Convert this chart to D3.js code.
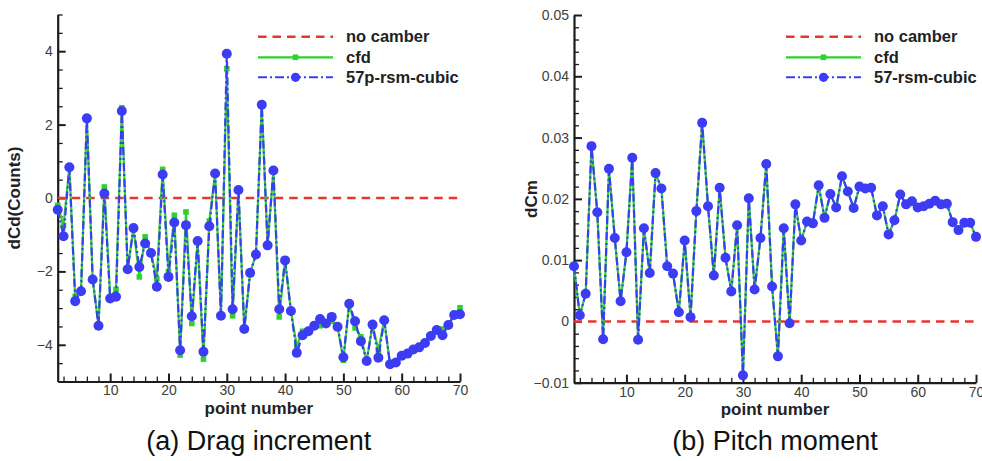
<!DOCTYPE html>
<html><head><meta charset="utf-8">
<script src="https://cdn.jsdelivr.net/npm/d3@7"></script>
<style>body{margin:0;background:#fff;} svg{display:block;font-family:"Liberation Sans",Arial,sans-serif;}</style>
</head><body>
<svg id="chart" width="982" height="461"></svg>
<script>
// ---------- data ----------
const pointNumbers = d3.range(1, 71);
const dragRsm = [-0.32,-1.04,0.84,-2.81,-2.54,2.17,-2.22,-3.48,0.12,-2.74,-2.69,2.37,-1.94,-0.82,-1.88,-1.24,-1.50,-2.42,0.64,-2.15,-0.67,-4.15,-0.74,-3.22,-1.17,-4.19,-0.77,0.67,-3.21,3.93,-3.03,0.22,-3.57,-2.04,-1.54,2.54,-1.29,0.75,-3.03,-1.70,-3.08,-4.22,-3.74,-3.63,-3.48,-3.30,-3.42,-3.24,-3.51,-4.34,-2.88,-3.36,-3.90,-4.44,-3.45,-4.35,-3.33,-4.53,-4.48,-4.30,-4.24,-4.13,-4.07,-3.95,-3.76,-3.60,-3.74,-3.46,-3.19,-3.17];
const dragCfd = [-0.20,-0.75,0.84,-2.68,-2.54,2.17,-2.22,-3.48,0.30,-2.70,-2.49,2.46,-1.94,-0.82,-2.15,-1.06,-1.50,-2.20,0.78,-2.00,-0.47,-4.28,-0.38,-3.42,-1.17,-4.39,-0.63,0.67,-3.21,3.52,-3.21,0.22,-3.57,-2.04,-1.54,2.54,-1.29,0.75,-3.24,-1.70,-3.08,-4.03,-3.63,-3.63,-3.48,-3.48,-3.42,-3.36,-3.51,-4.42,-2.88,-3.54,-3.78,-4.44,-3.45,-4.15,-3.33,-4.53,-4.48,-4.30,-4.24,-4.13,-4.07,-3.95,-3.76,-3.60,-3.57,-3.46,-3.19,-2.99];
const pitchRsm = [0.0090,0.0010,0.0045,0.0286,0.0178,-0.0029,0.0249,0.0136,0.0033,0.0113,0.0267,-0.0030,0.0152,0.0079,0.0242,0.0217,0.0090,0.0078,0.0015,0.0132,0.0007,0.0180,0.0324,0.0188,0.0075,0.0218,0.0104,0.0049,0.0157,-0.0088,0.0201,0.0052,0.0136,0.0257,0.0057,-0.0057,0.0152,-0.0003,0.0191,0.0132,0.0163,0.0160,0.0222,0.0169,0.0208,0.0186,0.0237,0.0212,0.0185,0.0220,0.0217,0.0218,0.0173,0.0188,0.0142,0.0165,0.0207,0.0191,0.0196,0.0186,0.0188,0.0192,0.0197,0.0191,0.0192,0.0162,0.0149,0.0161,0.0161,0.0138];
const pitchCfd = [0.0090,0.0010,0.0045,0.0286,0.0178,-0.0029,0.0249,0.0136,0.0033,0.0113,0.0267,-0.0030,0.0152,0.0079,0.0242,0.0217,0.0090,0.0078,0.0015,0.0132,0.0007,0.0180,0.0324,0.0188,0.0075,0.0218,0.0104,0.0049,0.0157,-0.0088,0.0201,0.0052,0.0136,0.0257,0.0057,-0.0057,0.0152,-0.0003,0.0191,0.0132,0.0163,0.0160,0.0222,0.0169,0.0208,0.0186,0.0237,0.0212,0.0185,0.0220,0.0217,0.0218,0.0173,0.0188,0.0142,0.0165,0.0207,0.0191,0.0196,0.0186,0.0188,0.0192,0.0197,0.0191,0.0192,0.0162,0.0149,0.0161,0.0161,0.0138];
const noCamber = 0;
const xMajorTicks = [10,20,30,40,50,60,70];
const dragYTicks = [-4,-2,0,2,4];
const pitchYTicks = [-0.01,0,0.01,0.02,0.03,0.04,0.05];
const legendDrag = ["no camber","cfd","57p-rsm-cubic"];
const legendPitch = ["no camber","cfd","57-rsm-cubic"];
const captions = ["(a) Drag increment","(b) Pitch moment"];
const yTitles = ["dCd(Counts)","dCm"];
const xTitle = "point number";

// ---------- drawing ----------
const svg = d3.select("#chart");
const RED = "#e8352f", GREEN = "#2ed12e", BLUE = "#3c3cf4", AX = "#1c1c1c", TXT = "#404040";

function panel(o) {
  const g = svg.append("g");
  const x = d3.scaleLinear().domain([1,70]).range([o.x0, o.x1]);
  const y = d3.scaleLinear().domain(o.yDomain).range([o.yBottom, o.yTop]);

  // minor ticks
  g.append("g").attr("transform", `translate(0,${o.yBottom})`)
    .call(d3.axisBottom(x).tickValues(d3.range(2,71,2).filter(v=>v%10)).tickSize(-5).tickSizeOuter(0).tickFormat(""))
    .call(a=>{a.select(".domain").remove(); a.selectAll("line").attr("stroke",AX).attr("stroke-width",1.3);});
  g.append("g").attr("transform", `translate(${o.x0},0)`)
    .call(d3.axisLeft(y).tickValues(o.yMinor).tickSize(-5).tickSizeOuter(0).tickFormat(""))
    .call(a=>{a.select(".domain").remove(); a.selectAll("line").attr("stroke",AX).attr("stroke-width",1.3);});

  // major axes
  const xa = g.append("g").attr("transform", `translate(0,${o.yBottom})`)
    .call(d3.axisBottom(x).tickValues(xMajorTicks).tickSize(-8).tickSizeOuter(0).tickPadding(4));
  const ya = g.append("g").attr("transform", `translate(${o.x0},0)`)
    .call(d3.axisLeft(y).tickValues(o.yTicks).tickSize(-8).tickSizeOuter(0).tickPadding(5).tickFormat(o.fmt));
  [xa,ya].forEach(a=>{
    a.select(".domain").attr("stroke",AX).attr("stroke-width",2.2);
    a.selectAll(".tick line").attr("stroke",AX).attr("stroke-width",2);
    a.selectAll("text").attr("fill",TXT).attr("font-size",14).attr("font-family","Liberation Sans, Arial, sans-serif");
  });

  // titles
  g.append("text").attr("x",(o.x0+o.x1)/2).attr("y",o.yBottom+32).attr("text-anchor","middle")
    .attr("font-size",17).attr("font-weight","bold").attr("fill","#222").text(xTitle);
  g.append("text").attr("transform",`translate(${o.yTitleX},${o.yTitleY}) rotate(-90)`).attr("text-anchor","middle")
    .attr("font-size",17).attr("font-weight","bold").attr("fill","#222").text(o.yTitle);
  g.append("text").attr("x",(o.x0+o.x1)/2).attr("y",450).attr("text-anchor","middle")
    .attr("font-size",27).attr("fill","#111").text(o.caption);

  // no camber line
  g.append("path").datum(pointNumbers).attr("fill","none").attr("stroke",RED).attr("stroke-width",2.5)
    .attr("stroke-dasharray","8.5,6").attr("stroke-dashoffset",-14)
    .attr("d", d3.line().x(d=>x(d)).y(()=>y(noCamber)));

  const line = d3.line().x((d,i)=>x(pointNumbers[i])).y(d=>y(d));
  // cfd
  g.append("path").datum(o.cfd).attr("fill","none").attr("stroke",GREEN).attr("stroke-width",2.2).attr("d",line);
  g.selectAll(null).data(o.cfd).enter().append("rect")
    .attr("x",(d,i)=>x(pointNumbers[i])-2.8).attr("y",d=>y(d)-2.8).attr("width",5.6).attr("height",5.6).attr("fill",GREEN);
  // rsm
  g.append("path").datum(o.rsm).attr("fill","none").attr("stroke",BLUE).attr("stroke-width",2.2)
    .attr("stroke-dasharray","8,3,2,3").attr("d",line);
  g.selectAll(null).data(o.rsm).enter().append("circle")
    .attr("cx",(d,i)=>x(pointNumbers[i])).attr("cy",d=>y(d)).attr("r",5).attr("fill",BLUE);

  // legend
  const rows = [36.7, 57.3, 77.3];
  const lx0 = o.legX, lx1 = o.legX + 75, lm = (lx0+lx1)/2;
  const lg = g.append("g");
  lg.append("line").attr("x1",lx0).attr("x2",lx1).attr("y1",rows[0]).attr("y2",rows[0])
    .attr("stroke",RED).attr("stroke-width",2.5).attr("stroke-dasharray","8.5,6");
  lg.append("line").attr("x1",lx0).attr("x2",lx1).attr("y1",rows[1]).attr("y2",rows[1])
    .attr("stroke",GREEN).attr("stroke-width",2.2);
  lg.append("rect").attr("x",lm-2.8).attr("y",rows[1]-2.8).attr("width",5.6).attr("height",5.6).attr("fill",GREEN);
  lg.append("line").attr("x1",lx0).attr("x2",lx1).attr("y1",rows[2]).attr("y2",rows[2])
    .attr("stroke",BLUE).attr("stroke-width",2).attr("stroke-dasharray","9,3,2,3");
  lg.append("circle").attr("cx",lm).attr("cy",rows[2]).attr("r",4.6).attr("fill",BLUE);
  lg.selectAll("text.leg").data(o.legend).enter().append("text").attr("class","leg")
    .attr("x",lx1+13).attr("y",(d,i)=>rows[i]).attr("dy","0.35em")
    .attr("font-size",16.5).attr("font-weight","bold").attr("fill","#222").text(d=>d);
}

panel({x0:57.7, x1:460, yBottom:381.5, yTop:14.5, yDomain:[-5,5], yTicks:dragYTicks,
  yMinor:d3.range(-4.5,5.01,0.5).filter(v=>Math.abs(v%2)>1e-6), fmt:d3.format("d"),
  yTitle:yTitles[0], yTitleX:20, yTitleY:198, caption:captions[0],
  cfd:dragCfd, rsm:dragRsm, legend:legendDrag, legX:258});
panel({x0:574, x1:976, yBottom:382.7, yTop:15, yDomain:[-0.01,0.05], yTicks:pitchYTicks,
  yMinor:d3.range(-8,51,2).filter(v=>v%10!==0).map(v=>v/1000), fmt:d=>d===0?"0":d3.format(".2f")(d),
  yTitle:yTitles[1], yTitleX:537, yTitleY:199, caption:captions[1],
  cfd:pitchCfd, rsm:pitchRsm, legend:legendPitch, legX:786});
</script>
</body></html>
